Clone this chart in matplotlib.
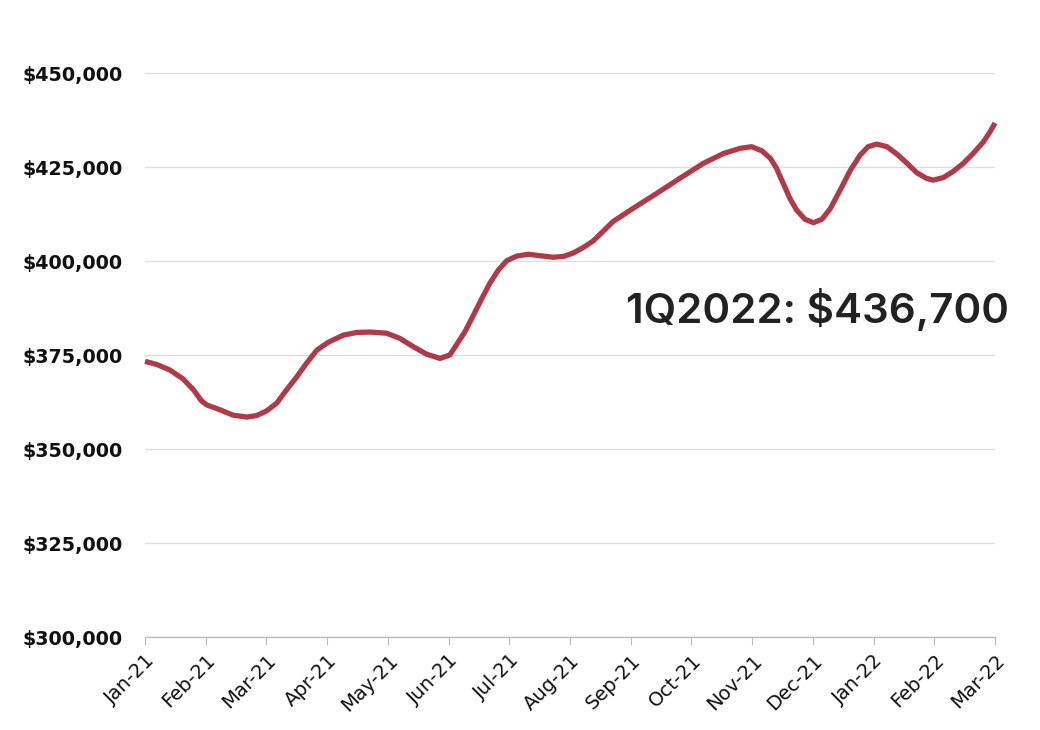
import numpy as np
import matplotlib
matplotlib.use("Agg")
import matplotlib.pyplot as plt
from matplotlib.ticker import FuncFormatter

# months since Jan-21 and median price
month_pos = [0.0, 0.19, 0.41, 0.63, 0.80, 0.93, 1.02, 1.24, 1.45, 1.68, 1.84, 2.00,
             2.17, 2.33, 2.50, 2.66, 2.83, 3.02, 3.27, 3.49, 3.71, 3.98, 4.20, 4.42,
             4.64, 4.86, 5.02, 5.13, 5.27, 5.41, 5.55, 5.68, 5.82, 5.96, 6.12, 6.31,
             6.51, 6.72, 6.89, 7.05, 7.22, 7.38, 7.71, 8.04, 8.43, 8.81, 9.20, 9.53,
             9.80, 9.99, 10.16, 10.30, 10.40, 10.51, 10.62, 10.73, 10.87, 11.01,
             11.15, 11.29, 11.45, 11.62, 11.78, 11.91, 12.05, 12.22, 12.38, 12.55,
             12.71, 12.87, 12.98, 13.15, 13.31, 13.48, 13.64, 13.81, 13.92, 14.0]
prices = [373300, 372500, 371000, 368600, 365700, 362800, 361700, 360400, 359000,
          358500, 358900, 360100, 362200, 365700, 369200, 372800, 376300, 378400,
          380300, 381000, 381100, 380800, 379400, 377200, 375200, 374100, 375000,
          377700, 381200, 385600, 390100, 394100, 397600, 400100, 401300, 401800,
          401400, 401000, 401200, 402100, 403600, 405300, 410500, 414000, 418000,
          422000, 426000, 428600, 429950, 430400, 429300, 427300, 424700, 420700,
          416700, 413600, 411100, 410200, 411100, 414000, 418900, 424200, 428200,
          430400, 431100, 430400, 428500, 426000, 423500, 422000, 421500, 422200,
          423800, 426000, 428600, 431700, 434400, 436700]
month_labels = ["Jan-21", "Feb-21", "Mar-21", "Apr-21", "May-21", "Jun-21", "Jul-21",
                "Aug-21", "Sep-21", "Oct-21", "Nov-21", "Dec-21", "Jan-22", "Feb-22",
                "Mar-22"]
y_ticks = [300000, 325000, 350000, 375000, 400000, 425000, 450000]
note = "1Q2022: $436,700"

assert len(month_pos) == len(prices)

fig = plt.figure(figsize=(10.4, 7.3), dpi=100)
ax = fig.add_axes([145 / 1040, 1 - 637 / 730, 850 / 1040, (637 - 73) / 730])

ax.plot(month_pos, prices, color="#B03A48", linewidth=3.8,
        solid_capstyle="butt", solid_joinstyle="round", zorder=3, clip_on=False)

# axes
ax.set_xlim(0, 14)
ax.set_ylim(300000, 450000)
ax.set_yticks(y_ticks)
ax.yaxis.set_major_formatter(FuncFormatter(lambda v, p: "${:,.0f}".format(v)))
ax.set_xticks(range(len(month_labels)))
ax.set_xticklabels(month_labels, rotation=45, ha="right", rotation_mode="anchor",
                   fontsize=14, family="DejaVu Sans")
for lab in ax.get_yticklabels():
    lab.set_fontsize(13.8)
    lab.set_fontweight("bold")
    lab.set_family("DejaVu Sans")

ax.grid(axis="y", color="#dddddd", linewidth=0.9)
ax.set_axisbelow(True)
for s in ["top", "right", "left"]:
    ax.spines[s].set_visible(False)
ax.spines["bottom"].set_color("#bbbbbb")
ax.spines["bottom"].set_linewidth(1.0)
ax.tick_params(axis="y", length=0, pad=16, colors="#111111")
ax.tick_params(axis="x", length=6, color="#bbbbbb", pad=4, labelcolor="#111111")

fig.text(626 / 1040, 1 - 310 / 730, note, ha="left", va="center",
         fontsize=30.3, family="Inter", fontweight=600, color="#222222")

fig.savefig("out.png", dpi=100, facecolor="white")
